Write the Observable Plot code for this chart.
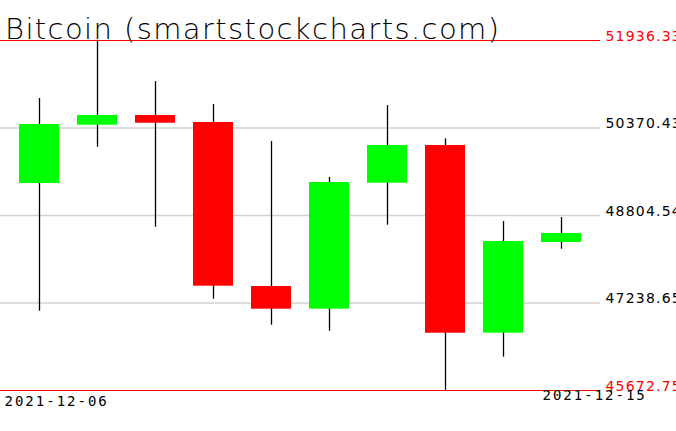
<!DOCTYPE html>
<html>
<head>
<meta charset="utf-8">
<script src="https://cdn.jsdelivr.net/npm/d3@7"></script>
<script src="https://cdn.jsdelivr.net/npm/@observablehq/plot@0.6"></script>
<style>
  html, body { margin: 0; padding: 0; background: #fff; }
  #chart { position: relative; width: 676px; height: 431px; overflow: hidden; }
</style>
</head>
<body>
<div id="chart"></div>
<script>
const title = "Bitcoin (smartstockcharts.com)";
const dates = ["2021-12-06","2021-12-07","2021-12-08","2021-12-09","2021-12-10","2021-12-11","2021-12-12","2021-12-13","2021-12-14","2021-12-15"];
const open  = [49377, 50420, 50594, 50469, 47534, 47128, 49382, 50057, 46698, 48321];
const close = [50433, 50594, 50456, 47539, 47128, 49395, 50057, 46698, 48339, 48482];
const high  = [50898, 51936.33, 51203, 50791, 50129, 49484, 50773, 50177, 48697, 48769];
const low   = [47092, 50027, 48595, 47307, 46841, 46734, 48631, 45672.75, 46269, 48201];
const gridTicks = [50370.43, 48804.54, 47238.65];
const extremeTicks = [51936.33, 45672.75];
const xLabels = ["2021-12-06", "2021-12-15"];

const candles = dates.map((d, i) => ({date: d, open: open[i], close: close[i], high: high[i], low: low[i]}));

const plot = Plot.plot({
  width: 676,
  height: 431,
  marginTop: 40,
  marginBottom: 41,
  marginLeft: 0,
  marginRight: 76,
  style: {background: "#fff", fontFamily: "DejaVu Sans"},
  x: {type: "band", domain: dates, range: [10, 590], paddingInner: 0.31, paddingOuter: 0.155, axis: null},
  y: {domain: [extremeTicks[1], extremeTicks[0]], axis: null},
  marks: [
    Plot.ruleY(gridTicks, {stroke: "#d3d3d3", strokeWidth: 1.5}),
    Plot.ruleY(extremeTicks, {stroke: "#ff0000", strokeWidth: 1.2}),
    Plot.ruleX(candles, {x: "date", y1: "low", y2: "high", stroke: "#000", strokeWidth: 1.3}),
    Plot.barY(candles, {x: "date", y1: "open", y2: "close", fill: d => d.close >= d.open ? "#00ff00" : "#ff0000"}),
    Plot.text(gridTicks, {y: d => d, frameAnchor: "right", dx: 5, textAnchor: "start", lineAnchor: "bottom", text: d => d.toFixed(2), fill: "#000", fontSize: 14}),
    Plot.text(extremeTicks, {y: d => d, frameAnchor: "right", dx: 5, textAnchor: "start", lineAnchor: "bottom", text: d => d.toFixed(2), fill: "#ff0000", fontSize: 14}),
    Plot.text([xLabels[0]], {x: d => d, frameAnchor: "bottom", dx: -35, dy: 6, textAnchor: "start", lineAnchor: "top", text: d => d, fill: "#000", fontSize: 14, fontFamily: "DejaVu Sans Mono"}),
    Plot.text([xLabels[1]], {x: d => d, frameAnchor: "bottom", dx: -19, dy: 0, textAnchor: "start", lineAnchor: "top", text: d => d, fill: "#000", fontSize: 14, fontFamily: "DejaVu Sans Mono"})
  ]
});

// letter spacing for the pixel-font look of the reference
d3.select(plot).selectAll("text").each(function() {
  const t = this.textContent;
  if (/^\d{4}-\d{2}-\d{2}$/.test(t)) this.setAttribute("letter-spacing", "2");
  else if (/^\d+\.\d+$/.test(t)) this.setAttribute("letter-spacing", "1.2");
});

d3.select(plot).append("text")
  .attr("x", 5)
  .attr("y", 39)
  .attr("text-anchor", "start")
  .attr("font-family", "DejaVu Sans")
  .attr("font-weight", 200)
  .attr("font-size", 29)
  .attr("letter-spacing", 1.4)
  .attr("fill", "#000")
  .text(title);

document.getElementById("chart").appendChild(plot);
</script>
</body>
</html>
